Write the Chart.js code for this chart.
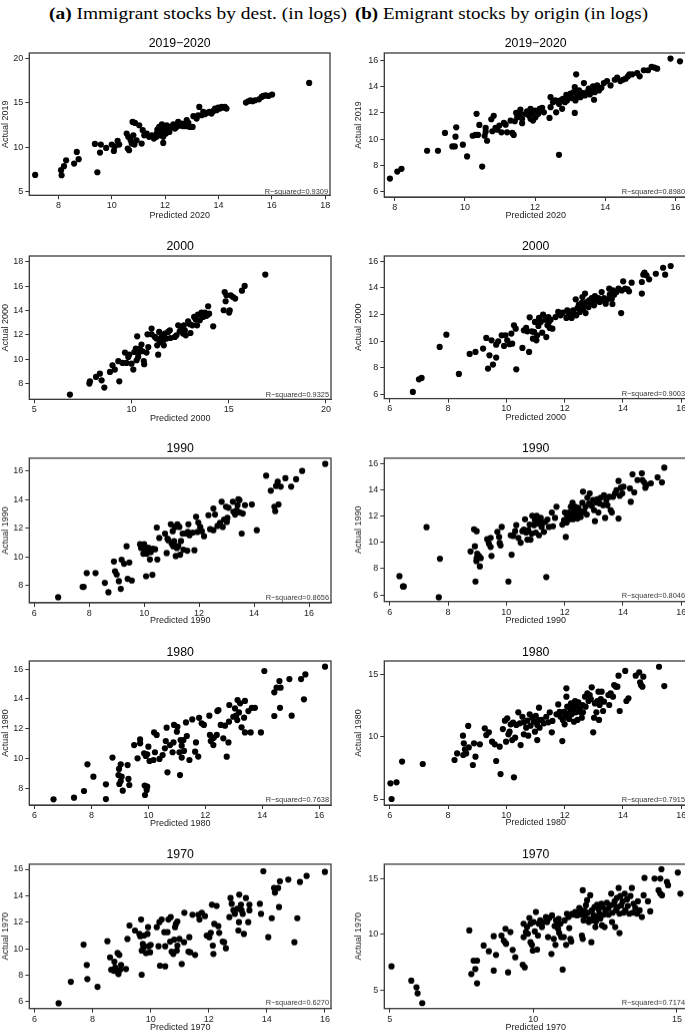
<!DOCTYPE html>
<html><head><meta charset="utf-8">
<script src="https://cdn.jsdelivr.net/npm/chart.js@4.4.1/dist/chart.umd.min.js"></script>
<style>
html,body{margin:0;padding:0;background:#fff;width:685px;height:1032px;overflow:hidden;position:relative;}
.hdr{position:absolute;top:3px;font-family:"Liberation Serif","DejaVu Serif",serif;font-size:17.5px;line-height:20px;white-space:nowrap;transform-origin:0 0;color:#000;}
.panel{position:absolute;}
</style></head><body>
<div class="hdr" id="hA" style="left:49px"><b>(a)</b> Immigrant stocks by dest. (in logs)</div>
<div class="hdr" id="hB" style="left:355px"><b>(b)</b> Emigrant stocks by origin (in logs)</div>
<script>
// ---------- DATA ----------
const panelTitles = ['2019\u22122020','2019\u22122020','2000','2000','1990','1990','1980','1980','1970','1970'];
const xTitles = ['Predicted 2020','Predicted 2020','Predicted 2000','Predicted 2000','Predicted 1990','Predicted 1990','Predicted 1980','Predicted 1980','Predicted 1970','Predicted 1970'];
const yTitles = ['Actual 2019','Actual 2019','Actual 2000','Actual 2000','Actual 1990','Actual 1990','Actual 1980','Actual 1980','Actual 1970','Actual 1970'];
const rsqTexts = ['R\u2212squared=0.9309','R\u2212squared=0.8980','R\u2212squared=0.9325','R\u2212squared=0.9003','R\u2212squared=0.8656','R\u2212squared=0.8046','R\u2212squared=0.7638','R\u2212squared=0.7915','R\u2212squared=0.6270','R\u2212squared=0.7174'];

const xTicksImm2020 = [8,10,12,14,16,18], yTicksImm2020 = [5,10,15,20];
const xTicksEmi2020 = [8,10,12,14,16],   yTicksEmi2020 = [6,8,10,12,14,16];
const xTicksImm2000 = [5,10,15,20],      yTicksImm2000 = [8,10,12,14,16,18];
const xTicksEmi2000 = [6,8,10,12,14,16], yTicksEmi2000 = [6,8,10,12,14,16];
const xTicksImm1990 = [6,8,10,12,14,16], yTicksImm1990 = [8,10,12,14,16];
const xTicksEmi1990 = [6,8,10,12,14,16], yTicksEmi1990 = [6,8,10,12,14,16];
const xTicksImm1980 = [6,8,10,12,14,16], yTicksImm1980 = [8,10,12,14,16];
const xTicksEmi1980 = [6,8,10,12,14,16], yTicksEmi1980 = [5,10,15];
const xTicksImm1970 = [6,8,10,12,14,16], yTicksImm1970 = [6,8,10,12,14,16];
const xTicksEmi1970 = [5,10,15],         yTicksEmi1970 = [5,10,15];

// [predicted, actual]
const imm2020 = [[7.13,6.88],[8.10,7.41],[8.12,6.84],[8.21,7.86],[8.29,8.53],[8.59,8.16],[8.69,9.47],[8.76,8.65],[9.46,7.18],[9.37,10.38],[9.56,9.40],[9.59,10.30],[9.79,9.92],[10.0,10.3],[10.08,9.59],[10.12,10.11],[10.22,10.71],[10.28,10.3],[10.56,11.54],[10.60,9.85],[10.65,9.66],[10.62,11.17],[10.71,10.79],[10.78,12.86],[10.87,12.74],[10.81,11.35],[10.75,10.41],[10.85,10.30],[10.93,10.79],[11.03,12.48],[11.12,10.41],[11.16,11.92],[11.22,11.35],[11.31,11.54],[11.40,11.17],[11.50,11.35],[11.58,10.98],[11.68,11.54],[11.71,11.99],[11.78,12.29],[11.81,11.73],[11.85,11.35],[11.88,12.59],[11.91,11.84],[11.93,11.17],[11.97,12.11],[12.0,12.37],[12.03,11.54],[12.06,12.48],[12.12,11.92],[12.16,11.73],[11.93,10.49],[12.18,12.11],[12.24,12.37],[12.31,12.59],[12.37,12.11],[12.43,12.29],[12.49,12.86],[12.56,12.44],[12.62,12.67],[12.68,12.37],[12.74,12.59],[12.81,13.05],[12.87,12.74],[12.93,12.29],[13.03,12.29],[13.06,13.5],[13.28,14.55],[13.43,13.98],[13.18,13.23],[13.24,13.61],[13.37,13.61],[13.49,13.72],[13.56,13.87],[13.66,13.98],[13.74,13.80],[13.81,14.10],[13.87,14.36],[13.93,14.17],[13.99,14.47],[14.05,14.36],[14.12,14.55],[14.18,14.47],[14.24,14.55],[14.30,14.36],[15.03,15.04],[15.12,15.19],[15.20,15.30],[15.28,15.19],[15.37,15.30],[15.52,15.41],[15.62,15.68],[15.68,15.79],[15.77,15.86],[15.87,15.79],[16.01,15.94],[17.40,17.26],[11.68,11.17],[11.75,11.73],[12.81,12.37]];

const emi2020 = [[7.86,7.02],[8.07,7.55],[8.19,7.76],[8.92,9.13],[9.23,9.13],[9.43,10.48],[9.64,9.46],[9.71,9.46],[9.73,10.2],[9.75,10.91],[9.94,9.59],[10.06,8.70],[10.22,10.27],[10.30,10.33],[10.37,10.33],[10.33,11.93],[10.41,11.09],[10.49,7.93],[10.56,10.27],[10.59,10.86],[10.63,9.89],[10.59,10.58],[10.75,11.52],[10.82,11.78],[10.78,10.61],[10.87,10.86],[10.92,10.73],[10.98,11.04],[11.04,10.53],[11.11,11.24],[11.16,11.11],[11.20,10.53],[11.30,11.42],[11.35,10.48],[11.39,10.33],[11.42,11.37],[11.46,12.0],[11.49,11.67],[11.58,11.93],[11.58,12.26],[11.63,11.55],[11.63,11.22],[11.73,11.93],[11.77,12.13],[11.82,11.80],[11.87,12.31],[11.87,11.55],[11.92,12.0],[11.94,11.42],[12.0,12.18],[12.01,11.67],[12.09,11.93],[12.13,12.31],[12.20,12.39],[12.25,12.05],[12.41,11.62],[12.44,12.44],[12.44,13.20],[12.51,12.82],[12.58,12.95],[12.60,12.05],[12.68,12.69],[12.72,12.95],[12.77,12.31],[12.79,13.07],[12.85,12.82],[12.89,13.38],[12.91,12.95],[12.96,13.20],[13.01,13.46],[13.06,13.12],[13.10,13.58],[13.13,13.96],[13.13,12.0],[13.15,12.95],[13.17,14.93],[13.20,13.33],[13.25,13.71],[13.29,13.20],[13.34,13.53],[13.39,14.27],[13.42,13.33],[13.48,13.58],[13.53,13.84],[13.56,13.40],[13.61,13.71],[13.65,14.02],[13.68,13.0],[13.70,13.58],[13.74,13.91],[13.77,14.09],[13.82,13.71],[13.89,13.91],[13.96,14.27],[14.05,14.42],[14.15,14.09],[14.27,14.52],[14.34,14.68],[14.43,14.42],[14.50,14.52],[14.58,14.60],[14.65,14.78],[14.69,14.93],[14.77,14.93],[14.91,15.03],[14.98,14.78],[15.10,15.24],[15.22,15.24],[15.32,15.49],[15.40,15.44],[15.48,15.36],[15.86,16.13],[16.13,15.92],[12.68,8.82]];

const imm2000 = [[6.83,7.10],[7.83,8.0],[7.86,8.19],[8.17,8.55],[8.37,8.82],[8.46,8.27],[8.60,7.67],[8.89,8.96],[9.02,9.51],[9.14,9.15],[9.32,9.84],[9.37,8.19],[9.54,9.70],[9.66,10.55],[9.74,9.70],[9.83,10.19],[9.88,10.38],[10.0,9.64],[10.09,9.15],[10.14,10.60],[10.22,10.88],[10.26,9.92],[10.29,11.89],[10.34,10.19],[10.39,10.60],[10.43,10.86],[10.51,11.21],[10.56,10.66],[10.63,9.86],[10.65,9.59],[10.77,10.55],[10.86,11.01],[10.82,12.05],[11.03,12.52],[11.03,12.05],[11.28,11.70],[11.32,11.15],[11.37,10.38],[11.42,12.25],[11.46,11.42],[11.54,11.84],[11.63,11.56],[11.66,11.15],[11.71,12.11],[11.80,11.70],[11.88,12.25],[11.97,12.38],[12.00,11.75],[12.31,11.97],[12.40,12.79],[12.48,12.30],[12.57,12.52],[12.65,12.11],[12.69,12.79],[12.74,12.38],[12.79,11.97],[12.91,13.12],[13.0,12.88],[13.03,12.16],[13.13,12.79],[13.22,13.48],[13.30,13.26],[13.37,12.79],[13.42,13.67],[13.51,13.21],[13.60,13.84],[13.68,13.48],[13.77,13.84],[13.89,13.62],[13.94,14.36],[13.99,13.75],[14.20,12.71],[14.74,14.03],[14.79,15.53],[14.84,14.77],[14.88,15.26],[15.02,13.84],[15.05,14.03],[15.10,15.26],[15.22,15.12],[15.33,14.99],[15.68,15.64],[15.82,16.03],[16.88,16.96],[11.20,11.84],[12.23,11.84],[13.27,13.48],[13.82,13.56]];

const emi2000 = [[6.79,6.2],[7.0,7.15],[7.09,7.25],[7.71,9.58],[7.94,10.5],[8.37,7.55],[8.74,9.05],[8.94,9.2],[9.20,9.45],[9.31,10.25],[9.37,7.95],[9.42,8.95],[9.49,10.07],[9.54,8.25],[9.65,8.78],[9.65,9.75],[9.72,10.0],[9.84,10.45],[9.92,9.65],[9.97,10.45],[10.03,10.07],[10.11,9.78],[10.17,10.58],[10.20,9.82],[10.26,11.2],[10.34,7.9],[10.32,10.95],[10.55,9.5],[10.60,10.82],[10.68,11.0],[10.72,10.75],[10.78,9.2],[10.80,11.8],[10.87,10.75],[10.91,10.2],[10.95,10.7],[10.98,11.45],[11.03,10.07],[11.06,10.45],[11.10,11.15],[11.12,11.75],[11.18,11.45],[11.23,10.65],[11.26,12.0],[11.33,11.62],[11.37,10.32],[11.41,11.2],[11.44,11.82],[11.46,11.45],[11.49,11.0],[11.52,11.62],[11.58,10.95],[11.69,11.82],[11.78,12.2],[11.86,11.95],[11.94,12.15],[12.06,11.75],[12.09,12.32],[12.15,12.07],[12.24,11.75],[12.29,12.32],[12.32,12.07],[12.38,13.15],[12.40,11.95],[12.44,12.5],[12.49,12.75],[12.52,12.2],[12.55,12.57],[12.59,12.88],[12.61,13.32],[12.63,12.4],[12.67,12.7],[12.70,13.58],[12.72,12.12],[12.75,12.95],[12.82,12.57],[12.84,13.07],[12.90,12.82],[12.93,13.25],[12.98,13.0],[13.01,12.7],[13.04,13.4],[13.09,13.07],[13.16,13.25],[13.20,12.95],[13.27,13.7],[13.30,13.07],[13.35,13.25],[13.41,12.82],[13.47,13.15],[13.53,13.95],[13.55,13.5],[13.62,13.2],[13.66,13.82],[13.70,13.5],[13.64,12.8],[13.78,13.7],[13.85,13.95],[13.94,12.12],[13.96,13.82],[14.01,14.5],[14.08,13.95],[14.16,13.9],[14.21,13.75],[14.30,14.4],[14.65,13.58],[14.65,14.45],[14.70,15.0],[14.74,15.15],[14.81,14.95],[14.90,14.65],[15.13,15.07],[15.38,15.52],[15.45,15.0],[15.64,15.65]];

const imm1990 = [[6.87,7.18],[7.76,7.91],[7.80,7.91],[7.91,8.87],[8.23,8.87],[8.57,8.19],[8.70,7.53],[8.90,9.68],[8.94,9.0],[9.0,8.77],[9.08,8.30],[9.15,7.77],[9.18,9.80],[9.27,9.52],[9.36,10.74],[9.40,8.47],[9.46,9.61],[9.55,8.35],[9.85,10.88],[9.89,10.62],[9.95,10.76],[9.97,10.22],[10.0,10.88],[10.03,10.46],[10.07,8.65],[10.09,10.22],[10.15,10.64],[10.21,9.82],[10.24,10.34],[10.31,10.57],[10.30,8.75],[10.40,10.53],[10.46,12.05],[10.48,9.82],[10.55,11.32],[10.76,11.63],[10.82,10.27],[10.85,11.27],[10.88,11.16],[10.97,12.27],[11.0,10.93],[11.04,11.79],[11.06,10.74],[11.09,11.09],[11.12,12.09],[11.15,10.06],[11.19,10.62],[11.21,12.27],[11.24,10.76],[11.28,12.09],[11.31,10.15],[11.34,11.11],[11.40,11.63],[11.43,10.50],[11.49,11.63],[11.57,10.43],[11.59,11.74],[11.61,12.27],[11.65,11.51],[11.77,11.70],[11.83,10.46],[11.89,12.80],[11.94,11.74],[11.97,12.40],[12.04,12.09],[12.10,11.79],[12.18,11.44],[12.34,12.91],[12.40,11.93],[12.52,11.86],[12.52,13.38],[12.58,12.96],[12.67,12.16],[12.76,12.37],[12.82,13.85],[12.86,12.09],[12.91,12.61],[12.98,13.50],[13.01,12.44],[13.03,12.72],[13.07,13.43],[13.23,13.85],[13.25,13.15],[13.31,12.96],[13.37,13.26],[13.40,13.61],[13.43,14.03],[13.47,13.96],[13.49,13.10],[13.55,11.63],[13.59,13.03],[13.67,13.61],[13.92,13.66],[14.10,11.86],[14.44,15.67],[14.61,14.62],[14.74,13.50],[14.77,13.19],[14.80,14.95],[14.86,15.25],[14.89,13.66],[14.97,14.90],[15.14,15.49],[15.35,14.90],[15.53,15.42],[15.75,16.0],[16.59,16.49]];

const emi1990 = [[6.33,7.43],[6.45,6.64],[6.48,6.64],[7.26,11.17],[7.68,5.82],[7.72,8.76],[8.77,9.32],[8.89,11.01],[8.92,9.71],[8.94,7.02],[8.98,10.86],[8.98,8.81],[9.0,9.15],[8.97,8.58],[9.06,8.97],[9.09,8.18],[9.12,8.81],[9.34,10.25],[9.40,9.91],[9.46,9.66],[9.46,10.35],[9.49,8.97],[9.69,10.81],[9.75,10.42],[9.77,9.96],[9.80,9.78],[9.84,11.19],[10.07,7.02],[10.15,10.55],[10.18,9.07],[10.23,10.50],[10.30,10.86],[10.34,11.32],[10.41,10.35],[10.49,9.99],[10.55,10.86],[10.60,10.99],[10.64,11.78],[10.68,10.76],[10.72,10.22],[10.75,10.94],[10.80,11.37],[10.83,10.22],[10.87,10.68],[10.89,12.04],[10.95,11.32],[10.98,11.71],[11.01,10.76],[11.04,12.04],[11.10,11.45],[11.12,10.55],[11.14,11.71],[11.18,11.88],[11.21,11.19],[11.26,11.52],[11.29,10.81],[11.33,11.58],[11.37,7.36],[11.41,11.75],[11.46,11.19],[11.56,12.29],[11.60,11.24],[11.67,11.88],[11.72,12.73],[11.92,11.37],[11.98,11.71],[12.01,12.29],[12.04,10.42],[12.07,11.52],[12.09,12.04],[12.15,12.29],[12.17,11.78],[12.21,12.73],[12.24,12.14],[12.27,13.03],[12.29,11.78],[12.32,12.39],[12.36,12.73],[12.38,12.04],[12.40,12.29],[12.44,11.83],[12.47,12.65],[12.49,12.14],[12.52,12.42],[12.55,11.96],[12.59,12.29],[12.61,13.03],[12.63,13.88],[12.67,12.39],[12.72,12.73],[12.76,12.14],[12.78,13.42],[12.84,12.98],[12.86,13.75],[12.93,12.80],[12.98,13.24],[13.01,12.47],[13.04,11.63],[13.09,13.06],[13.12,13.31],[13.16,12.29],[13.20,12.98],[13.24,13.42],[13.32,12.85],[13.35,13.62],[13.39,11.88],[13.43,13.24],[13.47,12.85],[13.53,13.49],[13.58,12.47],[13.62,12.29],[13.66,13.49],[13.73,13.75],[13.78,14.0],[13.85,11.83],[13.85,14.70],[13.89,13.57],[13.93,14.18],[13.98,13.75],[14.02,14.26],[14.24,14.13],[14.27,13.11],[14.33,15.21],[14.39,13.83],[14.50,14.77],[14.65,15.28],[14.67,14.77],[14.73,14.59],[14.77,14.18],[14.81,14.39],[14.96,14.52],[15.19,14.98],[15.34,14.59],[15.42,15.72]];

const imm1980 = [[6.67,7.26],[7.39,7.37],[7.74,7.82],[7.86,9.61],[8.07,8.78],[8.51,8.27],[8.51,7.28],[8.74,10.06],[8.95,8.89],[8.97,9.30],[8.98,8.29],[9.03,9.61],[9.03,8.49],[9.06,8.78],[9.10,7.84],[9.27,9.56],[9.30,8.63],[9.33,8.22],[9.50,10.90],[9.62,10.01],[9.71,11.28],[9.71,11.02],[9.85,10.35],[9.87,8.18],[9.88,7.55],[9.91,10.17],[9.94,7.89],[9.96,8.11],[10.0,10.79],[9.96,10.28],[10.04,9.83],[10.18,9.90],[10.20,11.75],[10.23,10.42],[10.29,11.58],[10.39,9.97],[10.50,10.23],[10.58,10.68],[10.61,11.17],[10.64,12.07],[10.67,9.07],[10.76,10.90],[10.85,10.42],[10.88,11.08],[10.90,12.25],[11.0,11.80],[11.02,12.13],[11.09,10.42],[11.11,8.89],[11.13,11.24],[11.17,10.06],[11.17,10.86],[11.23,11.24],[11.25,10.51],[11.32,12.42],[11.35,11.51],[11.44,9.90],[11.54,12.62],[11.64,10.46],[11.67,11.08],[11.75,10.13],[11.78,12.73],[11.87,12.36],[11.95,12.25],[12.14,12.87],[12.16,11.58],[12.19,11.17],[12.26,11.35],[12.28,10.90],[12.30,11.40],[12.40,11.58],[12.42,13.18],[12.46,13.25],[12.54,12.25],[12.63,11.35],[12.69,12.20],[12.75,10.12],[12.81,11.08],[12.83,12.47],[12.84,13.59],[12.98,12.80],[13.04,13.36],[13.08,12.87],[13.12,12.58],[13.13,13.92],[13.18,13.09],[13.22,13.70],[13.27,12.09],[13.36,12.74],[13.39,11.75],[13.39,13.86],[13.51,13.18],[13.59,11.75],[13.63,13.40],[13.74,13.40],[13.95,11.75],[14.07,15.87],[14.42,14.44],[14.42,12.85],[14.50,14.75],[14.60,15.20],[14.62,13.40],[14.64,14.75],[14.95,15.33],[15.03,12.87],[15.36,15.33],[15.46,13.97],[15.51,15.64],[16.20,16.16]];

const emi1980 = [[6.02,6.26],[6.06,5.0],[6.23,6.34],[6.42,8.0],[7.13,7.81],[8.22,8.13],[8.31,8.66],[8.51,10.08],[8.54,9.47],[8.52,8.53],[8.58,8.98],[8.62,8.66],[8.69,10.86],[8.71,9.14],[8.85,7.73],[8.89,9.47],[8.94,8.40],[9.09,9.39],[9.26,10.67],[9.31,10.13],[9.40,10.35],[9.51,9.60],[9.60,9.39],[9.65,8.05],[9.77,9.20],[9.80,7.0],[9.88,10.61],[9.95,11.28],[9.99,9.60],[10.03,11.47],[10.07,10.19],[10.11,10.40],[10.15,10.99],[10.20,9.73],[10.23,11.12],[10.26,6.74],[10.30,9.92],[10.34,10.94],[10.41,11.95],[10.46,11.07],[10.49,9.33],[10.55,11.60],[10.60,10.19],[10.60,11.15],[10.68,10.72],[10.72,11.28],[10.75,10.08],[10.80,11.79],[10.83,10.88],[10.89,11.52],[10.95,11.20],[10.98,10.40],[11.01,11.68],[11.06,10.94],[11.10,11.34],[11.12,12.33],[11.06,9.73],[11.14,10.72],[11.21,11.34],[11.29,11.07],[11.37,11.60],[11.44,11.15],[11.49,11.95],[11.56,10.35],[11.58,11.26],[11.72,11.79],[11.78,12.59],[11.83,12.0],[11.86,11.60],[11.92,9.65],[11.94,11.34],[11.98,12.0],[12.0,10.99],[12.04,11.68],[12.06,13.88],[12.06,13.21],[12.09,12.41],[12.13,11.87],[12.15,11.42],[12.19,12.27],[12.22,12.67],[12.24,11.79],[12.27,12.14],[12.30,12.49],[12.32,11.20],[12.36,12.86],[12.38,11.95],[12.40,12.41],[12.44,11.34],[12.47,12.75],[12.52,12.27],[12.55,11.95],[12.59,11.52],[12.61,12.54],[12.63,11.95],[12.70,13.21],[12.72,12.41],[12.78,13.48],[12.82,12.86],[12.86,13.34],[12.90,13.02],[12.93,13.96],[12.98,10.35],[13.01,11.52],[13.04,12.67],[13.09,11.95],[13.12,12.86],[13.16,13.61],[13.18,11.34],[13.20,12.54],[13.24,13.02],[13.27,13.61],[13.32,12.06],[13.35,12.81],[13.50,13.34],[13.53,12.54],[13.58,13.48],[13.66,13.21],[13.70,14.14],[13.76,14.01],[13.81,14.01],[13.85,14.89],[13.89,12.06],[14.08,15.27],[14.12,12.86],[14.19,13.08],[14.44,14.89],[14.56,15.16],[14.59,14.36],[14.62,14.14],[14.67,14.01],[14.70,14.81],[15.24,15.61],[15.42,14.06]];

const imm1970 = [[6.83,5.87],[7.25,7.49],[7.69,10.30],[7.80,8.76],[7.82,7.70],[8.17,7.11],[8.51,10.56],[8.60,9.34],[8.64,8.41],[8.72,8.33],[8.75,9.01],[8.78,8.58],[8.83,8.28],[8.86,9.67],[8.89,8.08],[8.92,9.52],[8.95,8.41],[8.98,8.76],[9.15,8.46],[9.20,10.73],[9.27,11.75],[9.46,11.37],[9.61,11.11],[9.64,10.94],[9.67,12.20],[9.69,8.03],[9.69,9.85],[9.73,10.35],[9.75,10.10],[9.77,10.99],[9.84,9.67],[9.89,11.11],[9.91,11.62],[9.93,10.18],[9.98,9.72],[10.0,10.28],[10.21,11.62],[10.27,10.18],[10.30,12.0],[10.32,8.71],[10.38,12.20],[10.47,11.24],[10.50,10.18],[10.50,8.66],[10.58,11.24],[10.61,12.20],[10.67,10.53],[10.69,12.38],[10.72,9.77],[10.78,9.60],[10.81,10.68],[10.84,11.62],[10.87,11.87],[10.90,9.85],[10.92,12.05],[10.92,10.23],[10.99,10.73],[11.07,8.84],[11.15,10.48],[11.16,12.71],[11.30,9.77],[11.33,10.86],[11.36,9.72],[11.44,12.56],[11.53,9.52],[11.64,12.56],[11.68,12.20],[11.76,12.71],[11.87,12.46],[11.93,10.99],[12.02,10.86],[12.07,11.19],[12.11,13.32],[12.14,10.23],[12.16,9.60],[12.19,11.87],[12.27,13.22],[12.33,11.70],[12.36,11.19],[12.48,10.53],[12.53,10.48],[12.59,10.03],[12.71,12.38],[12.75,13.82],[12.79,13.39],[12.85,12.89],[12.90,12.63],[12.98,13.01],[13.02,11.37],[13.04,12.0],[13.05,14.08],[13.11,13.32],[13.13,12.89],[13.17,12.63],[13.21,11.11],[13.28,13.82],[13.36,12.0],[13.40,13.32],[13.40,12.89],[13.76,13.39],[13.80,12.63],[13.88,15.85],[14.05,10.86],[14.17,12.30],[14.25,14.58],[14.28,14.23],[14.39,14.58],[14.42,13.14],[14.45,15.09],[14.74,15.22],[14.95,10.48],[15.05,12.30],[15.14,15.04],[15.37,15.49],[16.0,15.80]];

const emi1970 = [[5.06,7.13],[5.75,5.84],[5.93,5.24],[5.97,4.70],[6.13,3.83],[7.77,10.35],[7.84,6.44],[7.92,7.64],[7.98,6.89],[8.04,7.64],[8.04,5.60],[8.27,9.0],[8.45,8.48],[8.62,9.83],[8.70,8.15],[8.62,6.74],[8.89,9.89],[8.97,9.44],[9.03,10.50],[9.03,9.23],[9.05,9.14],[9.12,6.59],[9.20,10.20],[9.28,8.60],[9.37,7.94],[9.63,7.28],[9.66,10.95],[9.66,9.75],[9.70,7.04],[9.74,10.20],[9.78,10.65],[9.81,10.05],[9.86,11.46],[9.90,9.29],[9.90,10.95],[9.95,9.05],[9.98,8.54],[10.01,11.10],[10.05,10.26],[10.09,12.0],[10.13,8.63],[10.16,9.89],[10.19,10.95],[10.24,11.25],[10.30,10.65],[10.36,11.10],[10.44,11.55],[10.48,11.10],[10.51,9.75],[10.56,11.46],[10.63,8.24],[10.65,11.70],[10.71,9.59],[10.74,10.74],[10.77,9.05],[10.79,11.25],[10.82,10.80],[10.86,10.50],[10.88,11.40],[10.90,10.11],[10.94,10.95],[10.97,9.75],[11.02,6.83],[11.06,9.75],[11.09,11.25],[11.14,9.05],[11.17,11.85],[11.23,11.55],[11.25,10.56],[11.29,9.59],[11.32,9.35],[11.35,11.85],[11.40,11.76],[11.46,12.0],[11.52,11.70],[11.55,11.94],[11.60,12.36],[11.64,11.76],[11.67,12.15],[11.69,9.89],[11.72,13.95],[11.72,9.59],[11.75,11.25],[11.79,12.06],[11.81,11.70],[11.83,12.60],[11.87,13.05],[11.90,11.94],[11.93,11.10],[11.95,11.34],[11.98,13.50],[12.02,9.29],[12.04,12.15],[12.06,11.25],[12.10,11.70],[12.13,12.45],[12.16,10.65],[12.18,11.16],[12.22,12.66],[12.25,11.55],[12.27,12.24],[12.30,11.85],[12.33,11.40],[12.37,12.75],[12.39,10.80],[12.41,12.45],[12.45,11.76],[12.48,10.65],[12.51,12.15],[12.56,12.84],[12.60,12.30],[12.62,11.76],[12.68,12.60],[12.71,13.65],[12.74,11.10],[12.76,11.94],[12.80,12.66],[12.83,12.96],[12.85,10.65],[12.88,12.15],[12.91,13.26],[12.95,12.45],[12.97,14.16],[13.0,11.85],[13.03,13.44],[13.06,12.60],[13.11,12.96],[13.14,11.94],[13.18,13.65],[13.20,12.15],[13.0,10.11],[13.26,13.14],[13.29,12.54],[13.34,11.85],[13.38,13.44],[13.43,14.16],[13.46,11.94],[13.49,12.75],[13.55,12.36],[13.61,11.85],[13.64,12.96],[13.70,12.15],[13.78,11.55],[13.84,13.50],[13.87,15.06],[13.99,12.96],[14.07,12.06],[14.22,15.0],[14.36,13.95],[14.42,15.0],[14.42,13.65],[14.46,15.84],[14.48,13.50],[14.65,14.70],[14.69,14.40],[15.03,15.54],[15.12,13.65]];

// ---------- LAYOUT (geometry only) ----------
const FONT = '"Liberation Sans", Arial, sans-serif';
const panels = [
 {data:imm2020, xt:xTicksImm2020, yt:yTicksImm2020, xr:[6.91,18.18], yr:[4.58,20.63], col:0, frame:[29.3,52.7,330,195],  titleY:43.3,  xLabY:215,   rsqY:191.5},
 {data:emi2020, xt:xTicksEmi2020, yt:yTicksEmi2020, xr:[7.70,16.33], yr:[5.62,16.55], col:1, frame:[384.3,52.7,687,196.7], titleY:43.3,  xLabY:215.5, rsqY:191.5},
 {data:imm2000, xt:xTicksImm2000, yt:yTicksImm2000, xr:[4.74,20.26], yr:[6.71,18.49], col:0, frame:[29.3,255.7,331,399], titleY:246.7, xLabY:418.3, rsqY:394.3},
 {data:emi2000, xt:xTicksEmi2000, yt:yTicksEmi2000, xr:[5.81,16.2],  yr:[5.7,16.4],   col:1, frame:[384.3,255.7,687,398.3], titleY:246.7, xLabY:417.7, rsqY:394},
 {data:imm1990, xt:xTicksImm1990, yt:yTicksImm1990, xr:[5.82,16.8],  yr:[6.79,16.89], col:0, frame:[29.3,458.3,331,602.3], titleY:449, xLabY:620, rsqY:597},
 {data:emi1990, xt:xTicksEmi1990, yt:yTicksEmi1990, xr:[5.81,16.2],  yr:[5.49,16.44], col:1, frame:[384.3,458.3,687,601], titleY:449, xLabY:620, rsqY:595.7},
 {data:imm1980, xt:xTicksImm1980, yt:yTicksImm1980, xr:[5.82,16.41], yr:[6.88,16.54], col:0, frame:[29.3,661,331,805], titleY:652.3, xLabY:823.3, rsqY:799.5},
 {data:emi1980, xt:xTicksEmi1980, yt:yTicksEmi1980, xr:[5.81,16.2],  yr:[4.52,16.07], col:1, frame:[384.3,661,687,805], titleY:652.3, xLabY:823, rsqY:799.5},
 {data:imm1970, xt:xTicksImm1970, yt:yTicksImm1970, xr:[5.82,16.21], yr:[5.47,16.38], col:0, frame:[29.3,864,331,1007.7], titleY:854.3, xLabY:1026.5, rsqY:1002},
 {data:emi1970, xt:xTicksEmi1970, yt:yTicksEmi1970, xr:[4.81,15.35], yr:[3.34,16.29], col:1, frame:[384.3,864,687,1007.7], titleY:854.3, xLabY:1026.5, rsqY:1002}
];

const framePlugin = {
  id:'frameText',
  afterDraw(chart, args, opts){
    const {ctx, chartArea:a} = chart;
    ctx.save();
    ctx.strokeStyle = '#3c3c3c'; ctx.lineWidth = 1.3;
    ctx.strokeRect(a.left, a.top, a.right - a.left, a.bottom - a.top);
    ctx.fillStyle = '#333'; ctx.font = '7.4px ' + FONT;
    ctx.textAlign = 'right'; ctx.textBaseline = 'middle';
    ctx.fillText(opts.rsq, a.right - 2, opts.rsqY);
    ctx.restore();
  }
};

function makePanel(p, i){
  const cLeft = p.col === 0 ? 0 : 342;
  const cWidth = p.col === 0 ? 342 : 352;
  const [fl, ft, fr, fb] = p.frame;
  const cTop = ft - 30;
  const cBottom = p.xLabY + 10;
  const div = document.createElement('div');
  div.className = 'panel';
  div.style.left = cLeft + 'px'; div.style.top = cTop + 'px';
  div.style.width = cWidth + 'px'; div.style.height = (cBottom - cTop) + 'px';
  const cv = document.createElement('canvas');
  div.appendChild(cv); document.body.appendChild(div);
  const yLabX = p.col === 0 ? 5.5 : 358.7;
  const tSize = 12.3, tLh = tSize * 1.2;
  const pt = p.titleY - tLh / 2 - cTop;
  const pb = ft - cTop - tLh - pt;
  const aSize = 9, aLh = aSize * 1.2;
  const tickFont = {family: FONT, size: 9};
  new Chart(cv, {
    type: 'scatter',
    data: {datasets: [{
      data: p.data.map(d => ({x: d[0], y: d[1]})),
      pointRadius: 3.1, pointHoverRadius: 3.1, pointBorderWidth: 0,
      backgroundColor: '#000', borderColor: '#000', clip: false
    }]},
    options: {
      responsive: true, maintainAspectRatio: false, animation: false, events: [],
      layout: {padding: {top: 0, left: 0, bottom: 0, right: cLeft + cWidth - fr}},
      plugins: {
        legend: {display: false}, tooltip: {enabled: false},
        title: {display: true, text: panelTitles[i], fullSize: false, color: '#000',
                font: {family: FONT, size: tSize, weight: 'normal'}, padding: {top: pt, bottom: pb}},
        frameText: {rsq: rsqTexts[i], rsqY: p.rsqY - cTop}
      },
      scales: {
        x: {
          type: 'linear', position: 'bottom', min: p.xr[0], max: p.xr[1],
          afterBuildTicks: s => { s.ticks = p.xt.map(v => ({value: v})); },
          afterFit: s => { s.height = cBottom - fb; },
          grid: {display: true, drawOnChartArea: false, drawTicks: true, tickLength: 4, tickColor: '#333', tickWidth: 1},
          border: {display: true, color: '#3c3c3c', width: 1},
          ticks: {color: '#222', font: tickFont, padding: 1, maxRotation: 0, autoSkip: false, callback: v => String(v)},
          title: {display: true, text: xTitles[i], color: '#222', font: {family: FONT, size: aSize},
                  padding: {top: 0, bottom: cBottom - p.xLabY - aLh / 2}}
        },
        y: {
          type: 'linear', position: 'left', min: p.yr[0], max: p.yr[1],
          afterBuildTicks: s => { s.ticks = p.yt.map(v => ({value: v})); },
          afterFit: s => { s.width = fl - cLeft; },
          grid: {display: true, drawOnChartArea: false, drawTicks: true, tickLength: 4, tickColor: '#333', tickWidth: 1},
          border: {display: true, color: '#3c3c3c', width: 1},
          ticks: {color: '#222', font: tickFont, padding: 2, autoSkip: false, callback: v => String(v)},
          title: {display: true, text: yTitles[i], color: '#222', font: {family: FONT, size: aSize},
                  padding: {top: Math.max(0, yLabX - cLeft - aLh / 2), bottom: 0}}
        }
      }
    },
    plugins: [framePlugin]
  });
}
panels.forEach(makePanel);

function fitHdr(id, w){
  const e = document.getElementById(id);
  const s = w / e.getBoundingClientRect().width;
  e.style.transform = 'scaleX(' + s + ')';
}
fitHdr('hA', 298);
fitHdr('hB', 293);
</script>
</body></html>
